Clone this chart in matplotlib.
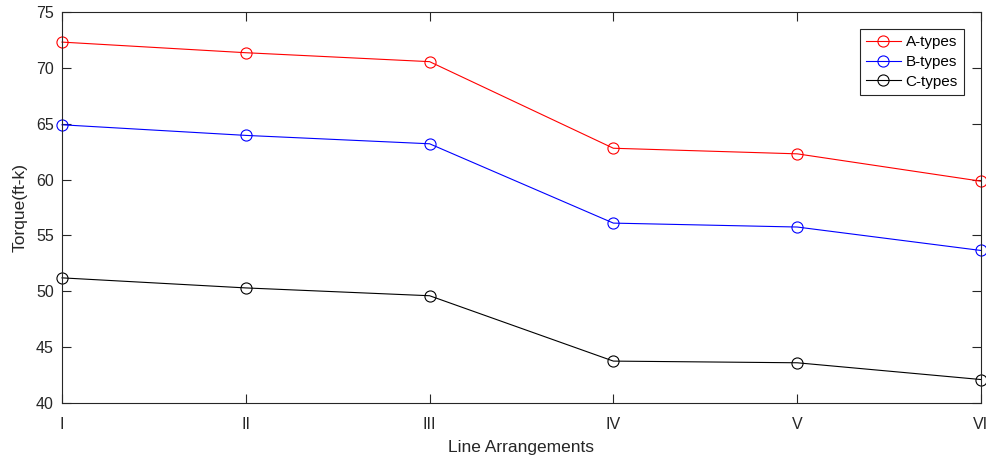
import matplotlib
matplotlib.use("Agg")
import matplotlib.pyplot as plt

plt.rcParams['font.family'] = ['Liberation Sans', 'DejaVu Sans']

# Data
arrangements = ["I", "II", "III", "IV", "V", "VI"]
a_types = [72.3, 71.35, 70.55, 62.8, 62.3, 59.85]
b_types = [64.9, 63.95, 63.2, 56.1, 55.75, 53.65]
c_types = [51.2, 50.3, 49.6, 43.75, 43.6, 42.1]

series_names = ["A-types", "B-types", "C-types"]
series_colors = ["#ff0000", "#0000ff", "#000000"]

fig = plt.figure(figsize=(9.87, 4.59), dpi=100)
ax = fig.add_axes([0.0628, 0.122, 0.9311, 0.852])

x = list(range(1, len(arrangements) + 1))
for vals, name, col in zip([a_types, b_types, c_types], series_names, series_colors):
    ax.plot(x, vals, color=col, linewidth=0.8, marker='o', markersize=8,
            markerfacecolor='none', markeredgecolor=col, markeredgewidth=0.8,
            label=name, clip_on=False)

ax.set_xlim(1, 6)
ax.set_ylim(40, 75)
ax.set_xticks(x)
ax.set_xticklabels(arrangements)
ax.set_yticks(range(40, 76, 5))

dark = "#262626"
for s in ax.spines.values():
    s.set_color(dark)
    s.set_linewidth(0.8)
ax.tick_params(direction='in', length=6.5, width=0.8, colors=dark,
               labelsize=11.5, top=True, right=True)
ax.tick_params(axis='x', pad=10)
ax.tick_params(axis='y', pad=6)

ax.set_xlabel("Line Arrangements", fontsize=12.5, color=dark, labelpad=6)
ax.set_ylabel("Torque(ft-k)", fontsize=12.5, color=dark, labelpad=6)

leg = ax.legend(loc='upper right', bbox_to_anchor=(0.9815, 0.9565), fontsize=11,
                frameon=True, fancybox=False, edgecolor=dark, framealpha=1,
                handlelength=2.3, handletextpad=0.3, borderpad=0.4,
                labelspacing=0.38, borderaxespad=0)
leg.get_frame().set_linewidth(0.8)

fig.savefig("out.png", dpi=100)
